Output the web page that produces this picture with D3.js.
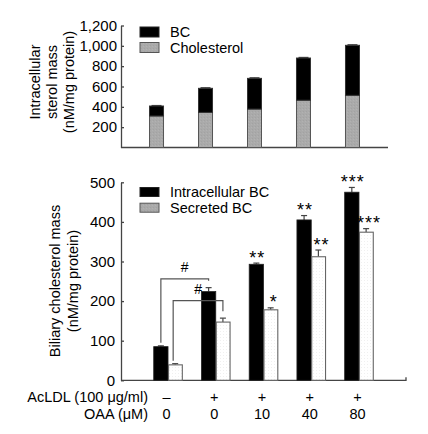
<!DOCTYPE html>
<html><head><meta charset="utf-8">
<script src="https://cdn.jsdelivr.net/npm/d3@7"></script>
<style>
body{margin:0;background:#fff}
text{font-family:Arial,"Liberation Sans",sans-serif;fill:#000}
</style>
</head><body>
<svg id="c" width="428" height="434"></svg>
<script>
// ---- data ----
const groups = ["g1","g2","g3","g4","g5"];
const cholesterol = [310, 345, 378, 465, 513];
const bcMass = [98, 237, 302, 415, 492];
const topErr = [5, 6, 6, 6, 6];
const intracellularBC = [85, 224, 293, 405, 475];
const intracellularErr = [2, 10, 3, 11, 12];
const secretedBC = [39, 147, 178, 312, 374];
const secretedErr = [3, 10, 5, 17, 9];
const sigIntra = ["", "", "**", "**", "***"];
const sigSecreted = ["", "", "*", "**", "***"];
const acldlLabels = ["\u2013", "+", "+", "+", "+"];
const oaaLabels = ["0", "0", "10", "40", "80"];
const topTicks = [200, 400, 600, 800, 1000, 1200];
const bottomTicks = [0, 100, 200, 300, 400, 500];
const topLegend = ["BC", "Cholesterol"];
const bottomLegend = ["Intracellular BC", "Secreted BC"];
const bracketLevels = [256, 201]; // "#" comparison brackets (value units)

const svg = d3.select("#c");
const AX = "#444";

// patterns
const defs = svg.append("defs");
const pg = defs.append("pattern").attr("id","pGray").attr("width",3).attr("height",3).attr("patternUnits","userSpaceOnUse");
pg.append("rect").attr("width",3).attr("height",3).attr("fill","#aaaaaa");
pg.append("rect").attr("x",0).attr("y",0).attr("width",1).attr("height",1).attr("fill","#a2a2a2");
pg.append("rect").attr("x",2).attr("y",1).attr("width",1).attr("height",1).attr("fill","#b2b2b2");
const pw = defs.append("pattern").attr("id","pWhite").attr("width",3).attr("height",3).attr("patternUnits","userSpaceOnUse");
pw.append("rect").attr("width",3).attr("height",3).attr("fill","#fff");
pw.append("rect").attr("x",1).attr("y",1).attr("width",1).attr("height",1).attr("fill","#f0f0f0");

// ---------- TOP PANEL ----------
const xTop = d3.scalePoint().domain(groups).range([121, 388]).padding(0.725);
const yTop = d3.scaleLinear().domain([0, 1200]).range([147.5, 25.5]);
const topBW = 14;

const gTopAxis = svg.append("g").attr("transform","translate(121,0)")
  .call(d3.axisLeft(yTop).tickValues(topTicks).tickFormat(d3.format(",")).tickSizeInner(-3).tickSizeOuter(0).tickPadding(4));
gTopAxis.selectAll("path,line").attr("stroke",AX).attr("stroke-width",1.3);
gTopAxis.selectAll("text").style("font-size","15px").attr("fill","#000");
svg.append("line").attr("x1",121).attr("x2",388).attr("y1",yTop(0)).attr("y2",yTop(0)).attr("stroke",AX).attr("stroke-width",1.3);

const topG = svg.append("g");
groups.forEach((g,i)=>{
  const x0 = xTop(g) - topBW/2;
  const tot = cholesterol[i] + bcMass[i];
  topG.append("line").attr("x1",xTop(g)).attr("x2",xTop(g)).attr("y1",yTop(tot)).attr("y2",yTop(tot+topErr[i])).attr("stroke","#444").attr("stroke-width",1);
  topG.append("line").attr("x1",xTop(g)-5).attr("x2",xTop(g)+5).attr("y1",yTop(tot+topErr[i])).attr("y2",yTop(tot+topErr[i])).attr("stroke","#444").attr("stroke-width",1.2);
  topG.append("rect").attr("x",x0).attr("width",topBW).attr("y",yTop(cholesterol[i])).attr("height",yTop(0)-yTop(cholesterol[i]))
    .attr("fill","url(#pGray)").attr("stroke","#555").attr("stroke-width",1);
  topG.append("rect").attr("x",x0).attr("width",topBW).attr("y",yTop(tot)).attr("height",yTop(cholesterol[i])-yTop(tot))
    .attr("fill","#000").attr("stroke","#333").attr("stroke-width",1);
});

// top legend
const tl = svg.append("g");
topLegend.forEach((t,i)=>{
  tl.append("rect").attr("x",140).attr("y",27+i*15.5).attr("width",19).attr("height",10)
    .attr("fill", i===0 ? "#000" : "url(#pGray)").attr("stroke", i===0 ? "#222" : "#555").attr("stroke-width",1);
  tl.append("text").attr("x",170).attr("y",37+i*15.5).style("font-size","14.5px").text(t);
});

// top y title
const topTitle = ["Intracellular","sterol mass","(nM/mg protein)"];
topTitle.forEach((t,i)=>{
  svg.append("text").attr("transform",`translate(${40+i*17},82) rotate(-90)`).attr("text-anchor","middle")
    .style("font-size","14.5px").text(t);
});

// ---------- BOTTOM PANEL ----------
const xBot = d3.scalePoint().domain(groups).range([121, 406]).padding(0.985);
const yBot = d3.scaleLinear().domain([0, 500]).range([380.3, 182.3]);
const botBW = 14.3;

const gBotAxis = svg.append("g").attr("transform","translate(121,0)")
  .call(d3.axisLeft(yBot).tickValues(bottomTicks).tickSizeInner(-3).tickSizeOuter(0).tickPadding(6));
gBotAxis.selectAll("path,line").attr("stroke",AX).attr("stroke-width",1.3);
gBotAxis.selectAll("text").style("font-size","15px").attr("fill","#000");
svg.append("path").attr("d",`M121,${yBot(0)}H406V${yBot(0)-3}`).attr("fill","none").attr("stroke",AX).attr("stroke-width",1.3);

const botG = svg.append("g");
function errBar(cx, v, e){
  botG.append("line").attr("x1",cx).attr("x2",cx).attr("y1",yBot(v)).attr("y2",yBot(v+e)).attr("stroke","#444").attr("stroke-width",1.2);
  botG.append("line").attr("x1",cx-3).attr("x2",cx+3).attr("y1",yBot(v+e)).attr("y2",yBot(v+e)).attr("stroke","#444").attr("stroke-width",1.2);
}
groups.forEach((g,i)=>{
  const c = xBot(g);
  const cb = c - botBW/2, cw = c + botBW/2;
  errBar(cb, intracellularBC[i], intracellularErr[i]);
  errBar(cw, secretedBC[i], secretedErr[i]);
  botG.append("rect").attr("x",c-botBW).attr("width",botBW).attr("y",yBot(intracellularBC[i])).attr("height",yBot(0)-yBot(intracellularBC[i]))
    .attr("fill","#000").attr("stroke","#222").attr("stroke-width",0.8);
  botG.append("rect").attr("x",c+0.5).attr("width",botBW-0.5).attr("y",yBot(secretedBC[i])).attr("height",yBot(0)-yBot(secretedBC[i]))
    .attr("fill","url(#pWhite)").attr("stroke","#666").attr("stroke-width",1.1);
  if (sigIntra[i]) botG.append("text").attr("x",cb+1).attr("y",yBot(intracellularBC[i]+intracellularErr[i])+0.5)
    .attr("text-anchor","middle").style("font-size","18px").style("letter-spacing","1px").text(sigIntra[i]);
  if (sigSecreted[i]) botG.append("text").attr("x",cw+3).attr("y",yBot(secretedBC[i]+secretedErr[i])+0.5)
    .attr("text-anchor","middle").style("font-size","18px").style("letter-spacing","1px").text(sigSecreted[i]);
});

// comparison brackets
const bracketSeries = [
  {vals:intracellularBC, errs:intracellularErr, side:-1},
  {vals:secretedBC, errs:secretedErr, side:1}
];
bracketSeries.forEach((s,k)=>{
  const xl = xBot(groups[0]) + s.side*botBW/2 + (k===1 ? -2 : 0);
  const xr = xBot(groups[1]) + s.side*botBW/2;
  const yl = yBot(s.vals[0]+s.errs[0]) - 3;
  const yr = yBot(s.vals[1]+s.errs[1]) - 7;
  const yt = yBot(bracketLevels[k]);
  botG.append("path").attr("d",`M${xl},${yl}V${yt}H${xr}V${yr}`).attr("fill","none").attr("stroke","#555").attr("stroke-width",1.2);
  botG.append("text").attr("x",(xl+xr)/2).attr("y",yt-7).attr("text-anchor","middle").style("font-size","14px").text("#");
});

// bottom legend
const bl = svg.append("g");
bottomLegend.forEach((t,i)=>{
  bl.append("rect").attr("x",140).attr("y",187.5+i*15.7).attr("width",19).attr("height",9)
    .attr("fill", i===0 ? "#000" : "url(#pGray)").attr("stroke", i===0 ? "#222" : "#555").attr("stroke-width",1);
  bl.append("text").attr("x",170).attr("y",197+i*15.7).style("font-size","14.5px").text(t);
});

// bottom y title
const botTitle = ["Biliary cholesterol mass","(nM/mg protein)"];
botTitle.forEach((t,i)=>{
  svg.append("text").attr("transform",`translate(${60+i*17.5},281) rotate(-90)`).attr("text-anchor","middle")
    .style("font-size","14.5px").text(t);
});

// treatment rows
svg.append("text").attr("x",148).attr("y",402).attr("text-anchor","end").style("font-size","14.5px").text("AcLDL (100 \u03bcg/ml)");
svg.append("text").attr("x",148).attr("y",418.5).attr("text-anchor","end").style("font-size","14.5px").text("OAA (\u03bcM)");
groups.forEach((g,i)=>{
  svg.append("text").attr("x",xBot(g)-1.5).attr("y",402).attr("text-anchor","middle").style("font-size","14.5px").text(acldlLabels[i]);
  svg.append("text").attr("x",xBot(g)-1.5).attr("y",418.5).attr("text-anchor","middle").style("font-size","14.5px").text(oaaLabels[i]);
});
</script>
</body></html>
